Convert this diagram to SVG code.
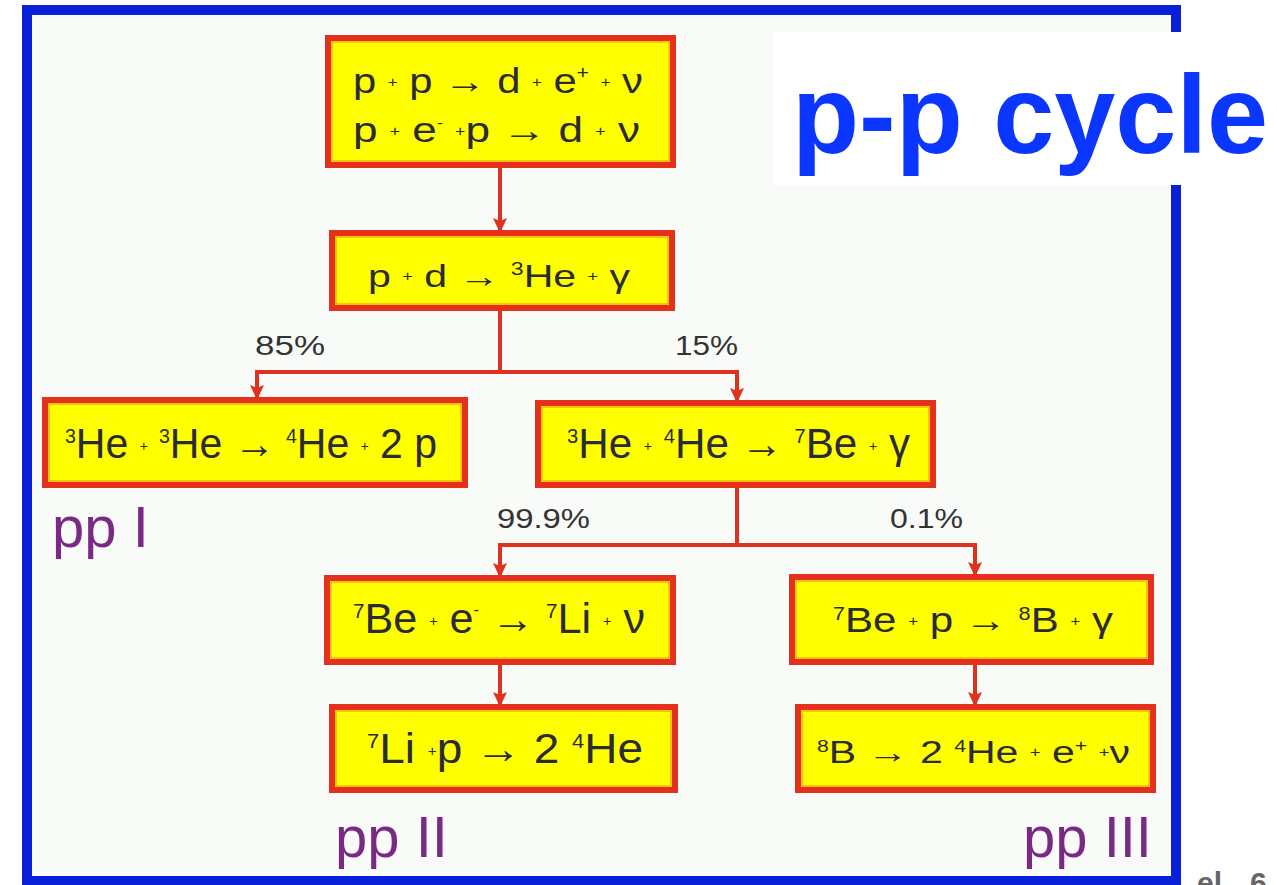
<svg xmlns="http://www.w3.org/2000/svg" width="1277" height="885" viewBox="0 0 1277 885">
<defs>
<marker id="ah" markerUnits="userSpaceOnUse" markerWidth="16" markerHeight="14" refX="15" refY="7" orient="auto" viewBox="0 0 16 14">
<path d="M0 0 L15 7 L0 14 L3 7 Z" fill="#e03020"/>
</marker>
</defs>
<style>
.box{fill:#ffff00;stroke:#e5301c;stroke-width:6}
.inner{fill:none;stroke:#f39a20;stroke-width:1.2}
.t{font-family:"Liberation Sans",Arial,sans-serif;fill:#2b2b33}
.pl{font-size:14px}
.pct{font-family:"Liberation Sans",Arial,sans-serif;fill:#333;font-size:28px}
.pp{font-family:"Liberation Sans",Arial,sans-serif;fill:#7a2a85;font-size:58px}
.conn{fill:none;stroke:#e03020;stroke-width:4}
</style>
<rect x="0" y="0" width="1277" height="885" fill="#ffffff"/>
<rect id="frame" x="27" y="10" width="1149" height="871" fill="#f8fbf8" stroke="#0a1fd8" stroke-width="10"/>

<g id="connectors">
<path class="conn" d="M500 165 V233" marker-end="url(#ah)"/>
<path class="conn" d="M500 308 V372 M255 372 H739"/>
<path class="conn" d="M257 370 V400" marker-end="url(#ah)"/>
<path class="conn" d="M737 370 V403" marker-end="url(#ah)"/>
<path class="conn" d="M737 485 V545 M498 545 H977"/>
<path class="conn" d="M500 543 V578" marker-end="url(#ah)"/>
<path class="conn" d="M975 543 V577" marker-end="url(#ah)"/>
<path class="conn" d="M500 662 V707" marker-end="url(#ah)"/>
<path class="conn" d="M975 662 V707" marker-end="url(#ah)"/>
</g>

<g id="n1">
<rect class="box" x="328" y="38" width="345" height="127"/>
<rect class="inner" x="332" y="42" width="337" height="119"/>
<text class="t" x="353" y="93" font-size="35" textLength="290" lengthAdjust="spacingAndGlyphs">p <tspan class="pl" dy="-6">+</tspan><tspan dy="6"> p  → d </tspan><tspan class="pl" dy="-6">+</tspan><tspan dy="6"> e</tspan><tspan font-size="18" dy="-14">+</tspan><tspan dy="14"> </tspan><tspan class="pl" dy="-6">+</tspan><tspan dy="6"> ν</tspan></text>
<text class="t" x="353" y="142" font-size="35" textLength="287" lengthAdjust="spacingAndGlyphs">p <tspan class="pl" dy="-6">+</tspan><tspan dy="6"> e</tspan><tspan font-size="14" dy="-14">-</tspan><tspan dy="14"> </tspan><tspan class="pl" dy="-6">+</tspan><tspan dy="6">p  → d </tspan><tspan class="pl" dy="-6">+</tspan><tspan dy="6"> ν</tspan></text>
</g>

<g id="n2">
<rect class="box" x="332" y="233" width="340" height="75"/>
<rect class="inner" x="336" y="237" width="332" height="67"/>
<text class="t" x="368" y="287" font-size="32" textLength="262" lengthAdjust="spacingAndGlyphs">p <tspan class="pl" dy="-6">+</tspan><tspan dy="6"> d  → </tspan><tspan font-size="18" dy="-12">3</tspan><tspan dy="12">He </tspan><tspan class="pl" dy="-6">+</tspan><tspan dy="6"> γ</tspan></text>
</g>

<text class="pct" x="255" y="355" textLength="70" lengthAdjust="spacingAndGlyphs">85%</text>
<text class="pct" x="675" y="355" textLength="63" lengthAdjust="spacingAndGlyphs">15%</text>

<g id="n3">
<rect class="box" x="45" y="400" width="420" height="85"/>
<rect class="inner" x="49" y="404" width="412" height="77"/>
<text class="t" x="65" y="458" font-size="42" textLength="372" lengthAdjust="spacingAndGlyphs"><tspan font-size="20" dy="-15">3</tspan><tspan dy="15">He  </tspan><tspan class="pl" dy="-7">+</tspan><tspan dy="7"> </tspan><tspan font-size="20" dy="-15">3</tspan><tspan dy="15">He → </tspan><tspan font-size="20" dy="-15">4</tspan><tspan dy="15">He </tspan><tspan class="pl" dy="-7">+</tspan><tspan dy="7"> 2 p</tspan></text>
</g>

<g id="n4">
<rect class="box" x="538" y="403" width="395" height="82"/>
<rect class="inner" x="542" y="407" width="387" height="74"/>
<text class="t" x="567" y="458" font-size="42" textLength="343" lengthAdjust="spacingAndGlyphs"><tspan font-size="20" dy="-15">3</tspan><tspan dy="15">He  </tspan><tspan class="pl" dy="-7">+</tspan><tspan dy="7"> </tspan><tspan font-size="20" dy="-15">4</tspan><tspan dy="15">He → </tspan><tspan font-size="20" dy="-15">7</tspan><tspan dy="15">Be </tspan><tspan class="pl" dy="-7">+</tspan><tspan dy="7"> γ</tspan></text>
</g>

<text class="pp" x="52" y="547">pp I</text>

<text class="pct" x="497" y="528" textLength="93" lengthAdjust="spacingAndGlyphs">99.9%</text>
<text class="pct" x="890" y="528" textLength="73" lengthAdjust="spacingAndGlyphs">0.1%</text>

<g id="n5">
<rect class="box" x="327" y="578" width="346" height="84"/>
<rect class="inner" x="331" y="582" width="338" height="76"/>
<text class="t" x="353" y="633" font-size="42" textLength="292" lengthAdjust="spacingAndGlyphs"><tspan font-size="20" dy="-15">7</tspan><tspan dy="15">Be  </tspan><tspan class="pl" dy="-7">+</tspan><tspan dy="7"> e</tspan><tspan font-size="16" dy="-18">-</tspan><tspan dy="18"> → </tspan><tspan font-size="20" dy="-15">7</tspan><tspan dy="15">Li </tspan><tspan class="pl" dy="-7">+</tspan><tspan dy="7"> ν</tspan></text>
</g>

<g id="n6">
<rect class="box" x="792" y="577" width="359" height="85"/>
<rect class="inner" x="796" y="581" width="351" height="77"/>
<text class="t" x="833" y="632" font-size="35" textLength="280" lengthAdjust="spacingAndGlyphs"><tspan font-size="18" dy="-12">7</tspan><tspan dy="12">Be  </tspan><tspan class="pl" dy="-6">+</tspan><tspan dy="6"> p → </tspan><tspan font-size="18" dy="-12">8</tspan><tspan dy="12">B </tspan><tspan class="pl" dy="-6">+</tspan><tspan dy="6"> γ</tspan></text>
</g>

<g id="n7">
<rect class="box" x="332" y="707" width="343" height="83"/>
<rect class="inner" x="336" y="711" width="335" height="75"/>
<text class="t" x="367" y="763" font-size="42" textLength="276" lengthAdjust="spacingAndGlyphs"><tspan font-size="20" dy="-15">7</tspan><tspan dy="15">Li  </tspan><tspan class="pl" dy="-7">+</tspan><tspan dy="7">p  → 2 </tspan><tspan font-size="20" dy="-15">4</tspan><tspan dy="15">He</tspan></text>
</g>

<g id="n8">
<rect class="box" x="798" y="707" width="355" height="83"/>
<rect class="inner" x="802" y="711" width="347" height="75"/>
<text class="t" x="817" y="763" font-size="31" textLength="313" lengthAdjust="spacingAndGlyphs"><tspan font-size="16" dy="-11">8</tspan><tspan dy="11">B → 2 </tspan><tspan font-size="16" dy="-11">4</tspan><tspan dy="11">He </tspan><tspan class="pl" dy="-6">+</tspan><tspan dy="6"> e</tspan><tspan font-size="16" dy="-12">+</tspan><tspan dy="12"> </tspan><tspan class="pl" dy="-6">+</tspan><tspan dy="6">ν</tspan></text>
</g>

<text class="pp" x="335" y="857">pp II</text>
<text class="pp" x="1023" y="857">pp III</text>

<g id="title">
<rect x="773" y="32" width="504" height="153" fill="#ffffff"/>
<text x="792" y="153" font-family="'Liberation Sans',Arial,sans-serif" font-weight="bold" font-size="112" fill="#0a36ff" textLength="476" lengthAdjust="spacingAndGlyphs">p-p cycle</text>
</g>

<text x="1197" y="893" font-family="'Liberation Sans',Arial,sans-serif" font-weight="bold" font-size="30" fill="#666"><tspan>el</tspan><tspan x="1250">6</tspan></text>
</svg>
